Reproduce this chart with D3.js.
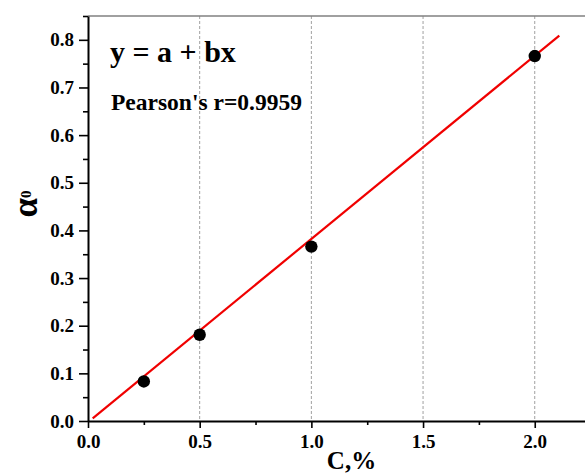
<!DOCTYPE html>
<html>
<head>
<meta charset="utf-8">
<script src="https://cdn.jsdelivr.net/npm/d3@7"></script>
<style>
  html, body { margin: 0; padding: 0; background: #fff; }
  svg { display: block; }
  text { font-family: "Liberation Serif", "Times New Roman", serif; font-weight: bold; }
</style>
</head>
<body>
<svg id="chart" width="585" height="473"></svg>
<script>
// ---- data ----
const concentrations = [0.25, 0.5, 1.0, 2.0];
const alphaValues = [0.083, 0.181, 0.366, 0.766];
const fitIntercept = [-0.0024];
const fitSlope = [0.3845];
const fitRange = [0.021, 2.11];
const xMajorTicks = [0.0, 0.5, 1.0, 1.5, 2.0];
const xMinorTicks = [0.25, 0.75, 1.25, 1.75];
const yMajorTicks = [0.0, 0.1, 0.2, 0.3, 0.4, 0.5, 0.6, 0.7, 0.8];
const yMinorTicks = [0.05, 0.15, 0.25, 0.35, 0.45, 0.55, 0.65, 0.75, 0.85];
const gridTicks = [0.5, 1.0, 1.5, 2.0];
const equationText = "y = a + bx";
const pearsonText = "Pearson's r=0.9959";
const xTitle = "C,%";

// ---- layout ----
const svg = d3.select("#chart");
const pLeft = 88, pRight = 585, pTop = 16, pBottom = 421;
const x = d3.scaleLinear().domain([0, 2.225]).range([pLeft, pRight]);
const y = d3.scaleLinear().domain([0, 0.85]).range([pBottom, pTop]);

// gridlines
svg.append("g").selectAll("line").data(gridTicks).join("line")
  .attr("x1", d => x(d)).attr("x2", d => x(d))
  .attr("y1", pTop).attr("y2", pBottom)
  .attr("stroke", "#a0a0a0").attr("stroke-width", 1)
  .attr("stroke-dasharray", "3,2");

// top border
svg.append("line")
  .attr("x1", pLeft).attr("x2", pRight).attr("y1", pTop).attr("y2", pTop)
  .attr("stroke", "#808080").attr("stroke-width", 1.5);

// minor ticks
svg.append("g").attr("transform", `translate(${pLeft},0)`)
  .call(d3.axisLeft(y).tickValues(yMinorTicks).tickSize(5).tickFormat(""))
  .call(g => g.select(".domain").remove())
  .call(g => g.selectAll("line").attr("stroke", "#000").attr("stroke-width", 1.6));
svg.append("g").attr("transform", `translate(0,${pBottom})`)
  .call(d3.axisBottom(x).tickValues(xMinorTicks).tickSize(4).tickFormat(""))
  .call(g => g.select(".domain").remove())
  .call(g => g.selectAll("line").attr("stroke", "#000").attr("stroke-width", 1.6));

// y axis
const yAxis = svg.append("g").attr("transform", `translate(${pLeft},0)`)
  .call(d3.axisLeft(y).tickValues(yMajorTicks).tickSize(9).tickSizeOuter(0).tickPadding(5).tickFormat(d3.format(".1f")));
yAxis.select(".domain").attr("stroke", "#000").attr("stroke-width", 2);
yAxis.selectAll("line").attr("stroke", "#000").attr("stroke-width", 1.6);
yAxis.selectAll("text").attr("font-size", 19).attr("font-family", "Liberation Serif").attr("font-weight", "bold").attr("fill", "#000");

// x axis
const xAxis = svg.append("g").attr("transform", `translate(0,${pBottom})`)
  .call(d3.axisBottom(x).tickValues(xMajorTicks).tickSize(7).tickSizeOuter(0).tickPadding(7).tickFormat(d3.format(".1f")));
xAxis.select(".domain").attr("stroke", "#000").attr("stroke-width", 2);
xAxis.selectAll("line").attr("stroke", "#000").attr("stroke-width", 1.6);
xAxis.selectAll("text").attr("font-size", 19).attr("font-family", "Liberation Serif").attr("font-weight", "bold").attr("fill", "#000");

// fit line
const line = d3.line().x(d => x(d)).y(d => y(fitIntercept[0] + fitSlope[0] * d));
svg.append("path").datum(fitRange)
  .attr("d", line).attr("fill", "none")
  .attr("stroke", "#f00000").attr("stroke-width", 2.2);

// points
svg.append("g").selectAll("circle").data(concentrations).join("circle")
  .attr("cx", d => x(d)).attr("cy", (d, i) => y(alphaValues[i]))
  .attr("r", 6.2).attr("fill", "#000");

// annotations
svg.append("text").attr("x", 110).attr("y", 62)
  .attr("font-size", 30).attr("fill", "#000").text(equationText);
svg.append("text").attr("x", 111).attr("y", 110)
  .attr("font-size", 23.5).attr("fill", "#000").text(pearsonText);

// axis titles
svg.append("text").attr("x", 351.5).attr("y", 469).attr("text-anchor", "middle")
  .attr("font-size", 25).attr("fill", "#000").text(xTitle);

const yt = svg.append("text")
  .attr("transform", "translate(37,204) rotate(-90)")
  .attr("text-anchor", "middle").attr("font-size", 35).attr("fill", "#000");
yt.append("tspan").text("α");
yt.append("tspan").attr("font-size", 15).attr("dy", -6).text("0");
</script>
</body>
</html>
